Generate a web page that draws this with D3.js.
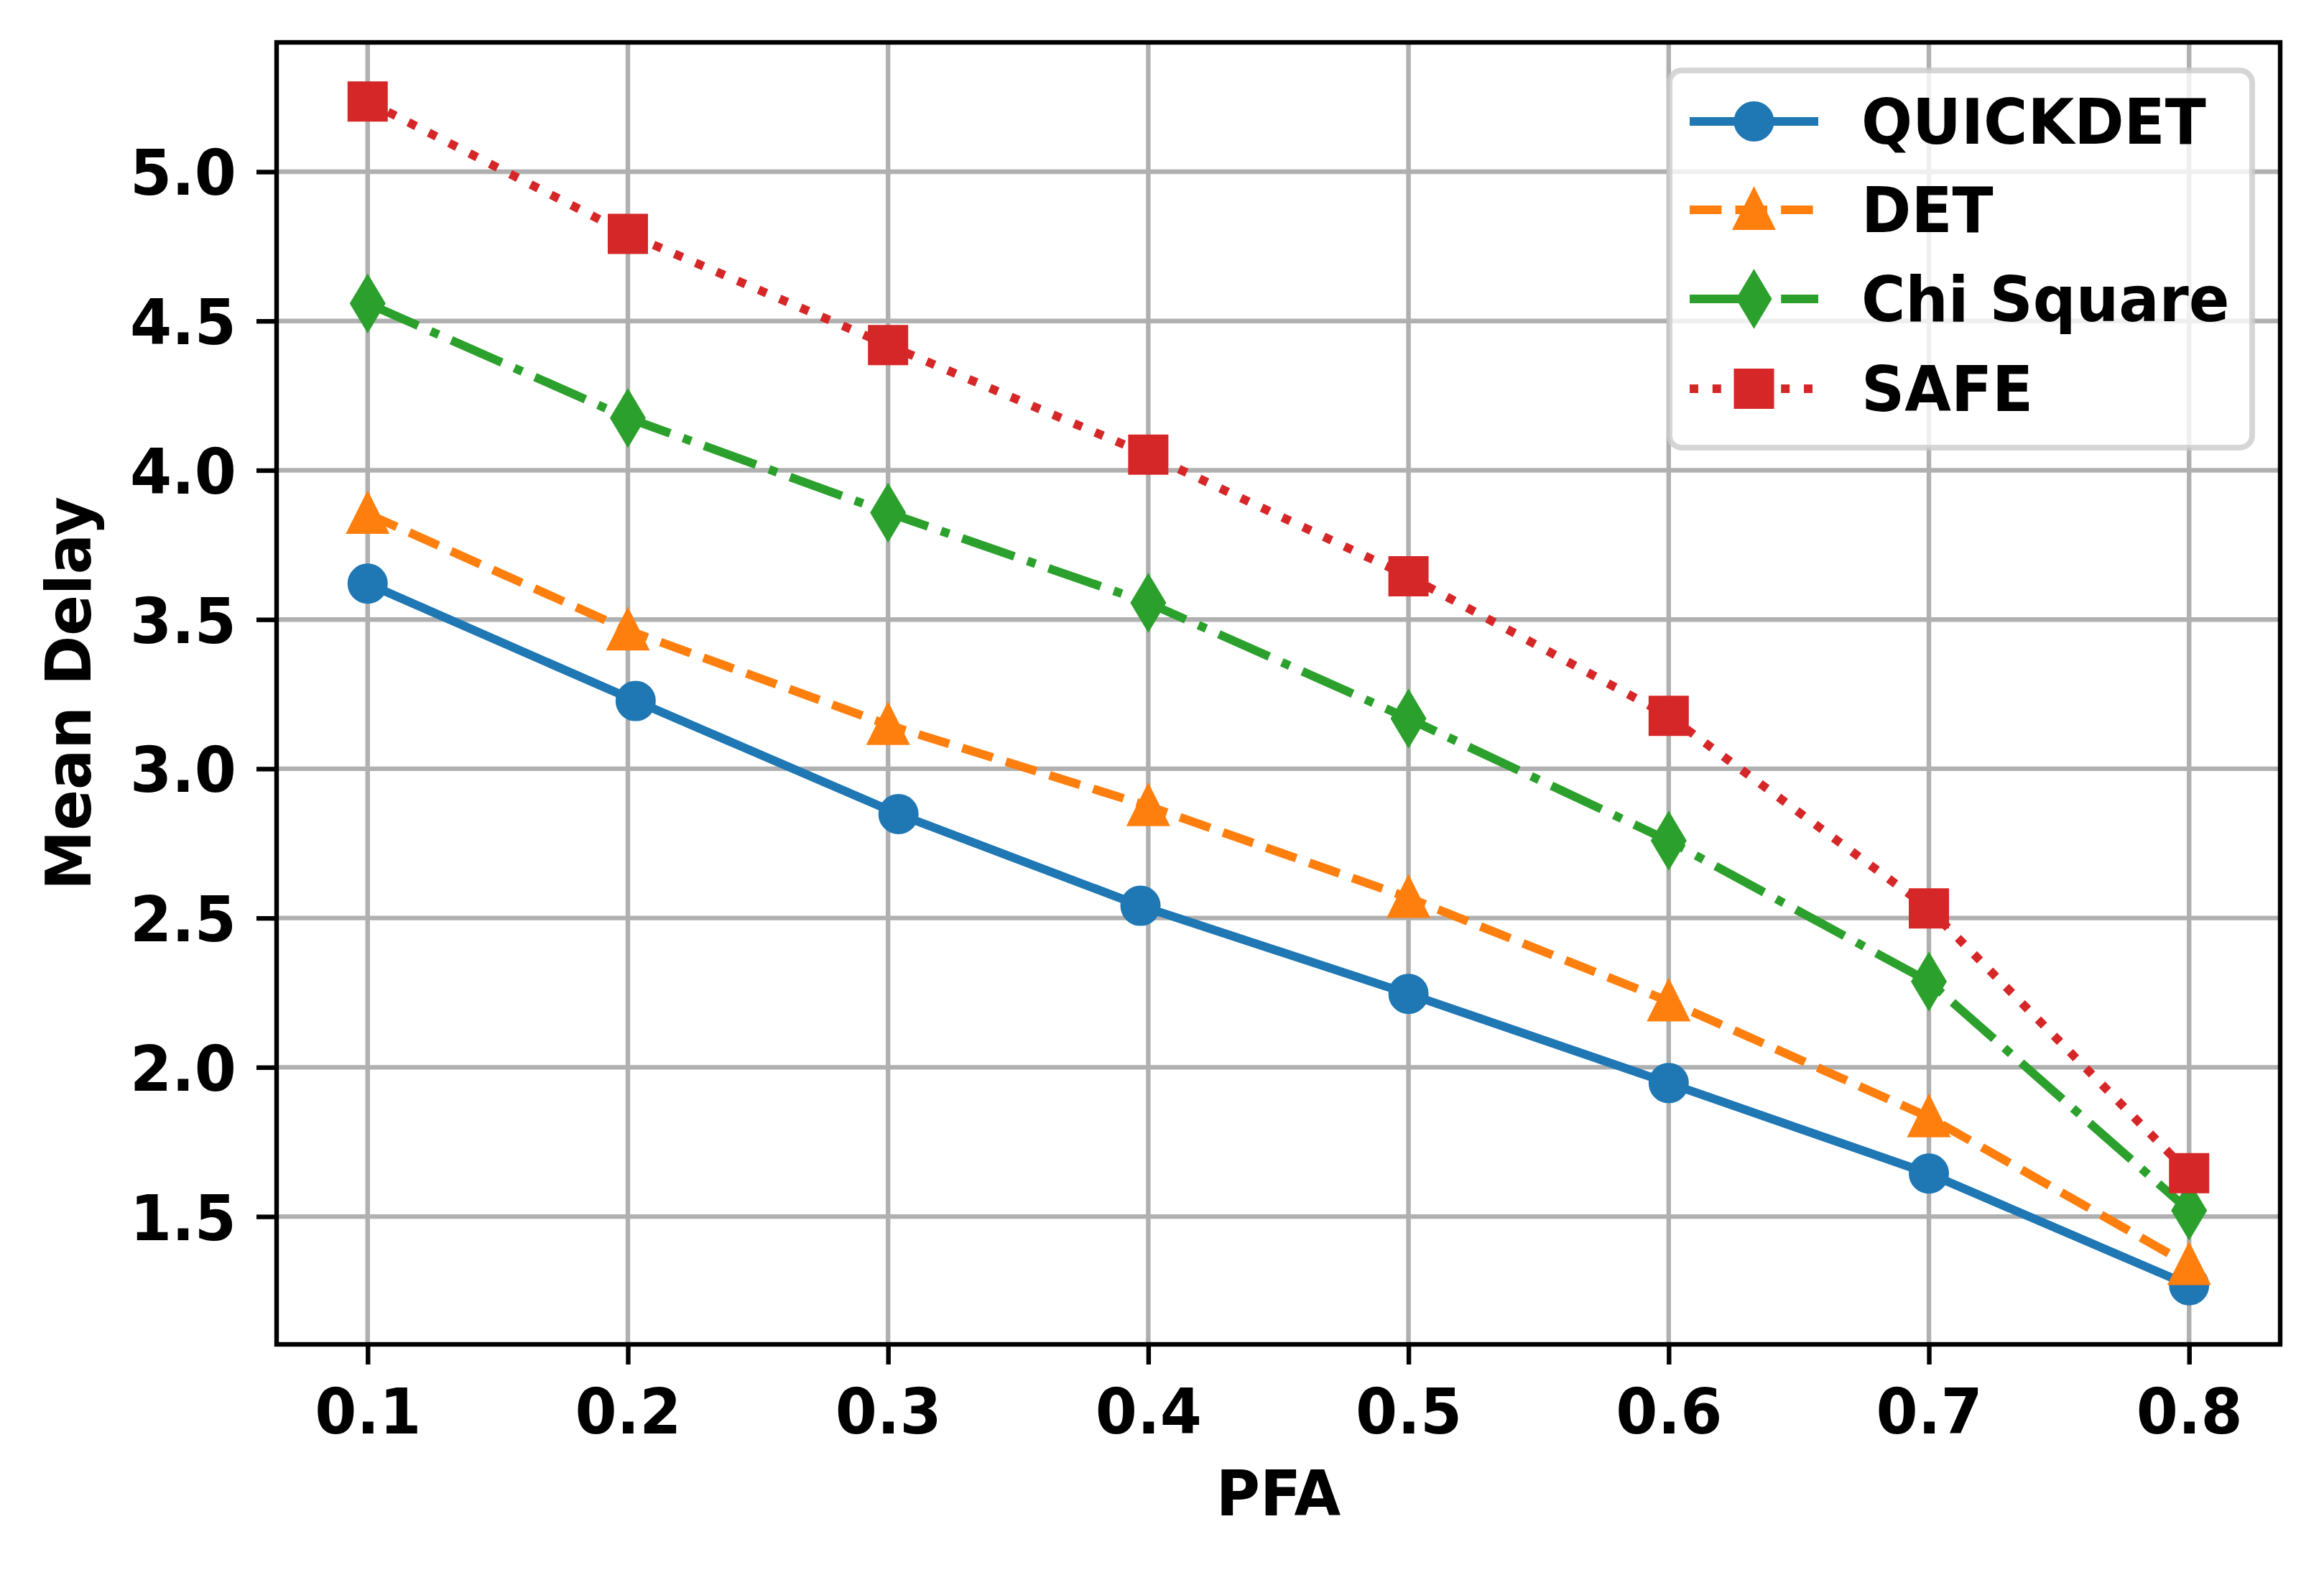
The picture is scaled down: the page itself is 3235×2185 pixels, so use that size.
<!DOCTYPE html>
<html>
<head>
<meta charset="utf-8">
<script src="https://cdn.jsdelivr.net/npm/d3@7"></script>
<style>
  html, body { margin: 0; padding: 0; background: #ffffff; }
  svg { display: block; }
  text { font-family: "DejaVu Sans", sans-serif; font-weight: bold; fill: #000; }
</style>
</head>
<body>
<svg id="chart" width="3235" height="2185"></svg>
<script>
// ---------------- data ----------------
const pfa = [0.1, 0.2, 0.3, 0.4, 0.5, 0.6, 0.7, 0.8];
const quickdetX = [0.1, 0.203, 0.304, 0.397, 0.5, 0.6, 0.7, 0.8];
const quickdet = [3.620, 3.227, 2.848, 2.541, 2.246, 1.947, 1.644, 1.270];
const det      = [3.854, 3.464, 3.147, 2.875, 2.568, 2.221, 1.833, 1.338];
const chiSquare= [4.559, 4.175, 3.858, 3.556, 3.168, 2.759, 2.287, 1.520];
const safe     = [5.235, 4.792, 4.419, 4.052, 3.645, 3.177, 2.532, 1.645];
const seriesNames = ["QUICKDET", "DET", "Chi Square", "SAFE"];
const xTicks = [0.1, 0.2, 0.3, 0.4, 0.5, 0.6, 0.7, 0.8];
const yTicks = [1.5, 2.0, 2.5, 3.0, 3.5, 4.0, 4.5, 5.0];
const xLabel = "PFA";
const yLabel = "Mean Delay";

// ---------------- styles ----------------
const LW = 12;          // line width (1.5pt)
const MS = 48;          // marker size (6pt)
const MEW = 8;          // marker edge width (1pt)
const FS = 88;          // font size
const styles = [
  { color: "#1f77b4", dash: null, cap: "square", marker: "o" },
  { color: "#ff7f0e", dash: [3.7, 1.6], cap: "butt", marker: "^" },
  { color: "#2ca02c", dash: [6.4, 1.6, 1, 1.6], cap: "butt", marker: "d" },
  { color: "#d62728", dash: [1, 1.65], cap: "butt", marker: "s" }
];

const series = [
  { name: seriesNames[0], xs: quickdetX, ys: quickdet },
  { name: seriesNames[1], xs: pfa, ys: det },
  { name: seriesNames[2], xs: pfa, ys: chiSquare },
  { name: seriesNames[3], xs: pfa, ys: safe }
];

// ---------------- layout ----------------
const W = 3235, H = 2185;
const plot = { left: 385, right: 3174, top: 59, bottom: 1871 };

const allY = series.flatMap(s => s.ys);
const yMin = d3.min(allY), yMax = d3.max(allY);
const yPad = (yMax - yMin) * 0.05;
const xMin = d3.min(pfa), xMax = d3.max(pfa);
const xPad = (xMax - xMin) * 0.05;

const x = d3.scaleLinear().domain([xMin - xPad, xMax + xPad]).range([plot.left, plot.right]);
const y = d3.scaleLinear().domain([yMin - yPad, yMax + yPad]).range([plot.bottom, plot.top]);

const svg = d3.select("#chart");
svg.append("rect").attr("width", W).attr("height", H).attr("fill", "#ffffff");

// clip
svg.append("defs").append("clipPath").attr("id", "clip")
  .append("rect").attr("x", plot.left).attr("y", plot.top)
  .attr("width", plot.right - plot.left).attr("height", plot.bottom - plot.top);

// grid
const grid = svg.append("g").attr("clip-path", "url(#clip)");
grid.selectAll("line.gx").data(xTicks).join("line")
  .attr("x1", d => x(d)).attr("x2", d => x(d))
  .attr("y1", plot.top).attr("y2", plot.bottom)
  .attr("stroke", "#b0b0b0").attr("stroke-width", 6.4);
grid.selectAll("line.gy").data(yTicks).join("line")
  .attr("y1", d => y(d)).attr("y2", d => y(d))
  .attr("x1", plot.left).attr("x2", plot.right)
  .attr("stroke", "#b0b0b0").attr("stroke-width", 6.4);

// marker paths (centered at 0,0)
function markerPath(m) {
  const h = MS / 2;
  if (m === "o") {
    const p = d3.path(); p.arc(0, 0, h, 0, 2 * Math.PI); p.closePath(); return p.toString();
  }
  if (m === "^") return `M0,${-h}L${-h},${h}L${h},${h}Z`;
  if (m === "s") return `M${-h},${-h}L${h},${-h}L${h},${h}L${-h},${h}Z`;
  if (m === "d") {
    const r = MS * Math.SQRT1_2;
    const rx = 0.6 * r;
    return `M0,${-r}L${rx},0L0,${r}L${-rx},0Z`;
  }
}

const line = d3.line();
const dataLayer = svg.append("g");
series.forEach((s, i) => {
  const st = styles[i];
  const pts = s.xs.map((xv, j) => [x(xv), y(s.ys[j])]);
  const g = dataLayer.append("g");
  g.append("path")
    .attr("d", line(pts))
    .attr("fill", "none")
    .attr("stroke", st.color)
    .attr("stroke-width", LW)
    .attr("stroke-linejoin", "round")
    .attr("stroke-linecap", st.cap)
    .attr("stroke-dasharray", st.dash ? st.dash.map(v => v * LW).join(",") : null);
  g.selectAll("path.mk").data(pts).join("path")
    .attr("class", "mk")
    .attr("transform", d => `translate(${d[0]},${d[1]})`)
    .attr("d", markerPath(st.marker))
    .attr("fill", st.color)
    .attr("stroke", st.color)
    .attr("stroke-width", MEW)
    .attr("stroke-linejoin", "miter");
});

// axes
const fmt = d3.format(".1f");
const xAxis = svg.append("g").attr("transform", `translate(0,${plot.bottom})`)
  .call(d3.axisBottom(x).tickValues(xTicks).tickSize(28).tickFormat(fmt));
xAxis.select(".domain").remove();
xAxis.selectAll(".tick line").attr("stroke", "#000").attr("stroke-width", 6.4);
xAxis.selectAll(".tick text").attr("y", 124).attr("dy", null)
  .style("font-size", FS + "px").style("font-family", "DejaVu Sans").style("font-weight", "bold").attr("fill", "#000");

const yAxis = svg.append("g").attr("transform", `translate(${plot.left},0)`)
  .call(d3.axisLeft(y).tickValues(yTicks).tickSize(28).tickFormat(fmt));
yAxis.select(".domain").remove();
yAxis.selectAll(".tick line").attr("stroke", "#000").attr("stroke-width", 6.4);
yAxis.selectAll(".tick text").attr("x", -56).attr("dy", 32)
  .style("font-size", FS + "px").style("font-family", "DejaVu Sans").style("font-weight", "bold").attr("fill", "#000");

// spines
svg.append("rect")
  .attr("x", plot.left).attr("y", plot.top)
  .attr("width", plot.right - plot.left).attr("height", plot.bottom - plot.top)
  .attr("fill", "none").attr("stroke", "#000").attr("stroke-width", 6.4)
  .attr("stroke-linejoin", "miter");

// axis labels
svg.append("text")
  .attr("x", (plot.left + plot.right) / 2).attr("y", 2109)
  .attr("text-anchor", "middle").style("font-size", FS + "px")
  .text(xLabel);
svg.append("text")
  .attr("transform", `translate(126,${(plot.top + plot.bottom) / 2}) rotate(-90)`)
  .attr("text-anchor", "middle").style("font-size", FS + "px")
  .text(yLabel);

// legend
const leg = { x: 2324, y: 98, w: 811, h: 525 };
const lg = svg.append("g");
lg.append("rect")
  .attr("x", leg.x).attr("y", leg.y).attr("width", leg.w).attr("height", leg.h)
  .attr("rx", 17).attr("ry", 17)
  .attr("fill", "#ffffff").attr("fill-opacity", 0.8)
  .attr("stroke", "#cccccc").attr("stroke-opacity", 0.8).attr("stroke-width", 8);
const rowY = [169, 292, 416, 541];
const hx0 = 2352, hx1 = 2531;
series.forEach((s, i) => {
  const st = styles[i];
  const cy = rowY[i];
  lg.append("path")
    .attr("d", line([[hx0, cy], [hx1, cy]]))
    .attr("fill", "none")
    .attr("stroke", st.color)
    .attr("stroke-width", LW)
    .attr("stroke-linecap", "butt")
    .attr("stroke-dasharray", st.dash ? st.dash.map(v => v * LW).join(",") : null);
  lg.append("path")
    .attr("transform", `translate(${(hx0 + hx1) / 2},${cy})`)
    .attr("d", markerPath(st.marker))
    .attr("fill", st.color).attr("stroke", st.color)
    .attr("stroke-width", MEW).attr("stroke-linejoin", "miter");
  lg.append("text")
    .attr("x", 2591).attr("y", cy + 31)
    .style("font-size", FS + "px")
    .text(s.name);
});

// the reference glyphs are slightly narrower than the browser's rendering
svg.selectAll("text").each(function () {
  const L = this.getComputedTextLength();
  this.setAttribute("textLength", (L * 0.95).toFixed(1));
  this.setAttribute("lengthAdjust", "spacingAndGlyphs");
});
</script>
</body>
</html>
